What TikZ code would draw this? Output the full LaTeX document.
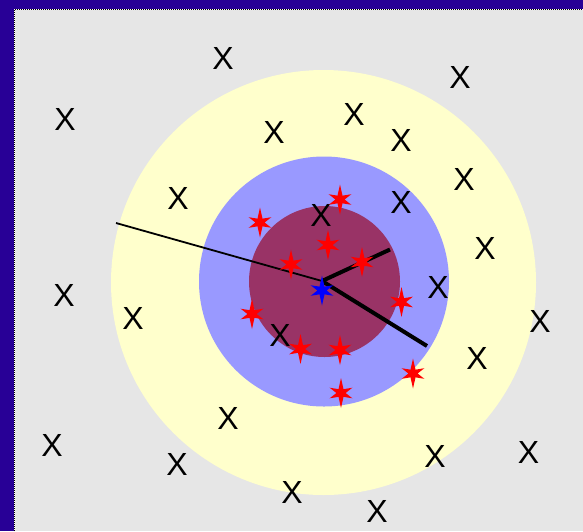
\documentclass[tikz,border=0pt]{standalone}
\usepackage{fontspec}
\setmainfont{Liberation Sans}
\definecolor{frameblue}{RGB}{40,0,150}
\definecolor{bggray}{RGB}{230,230,230}
\definecolor{ringyellow}{RGB}{255,255,204}
\definecolor{ringblue}{RGB}{153,153,255}
\definecolor{ringmaroon}{RGB}{153,51,102}
\tikzset{
  xmark/.style={inner sep=0pt, font=\fontsize{32}{32}\selectfont},
  thinradius/.style={line width=1.8pt},
  thickradius/.style={line width=4pt},
  pics/kstar/.style={code={
    \fill[#1] (90:15pt) -- (57:4.6pt) -- (25:12.5pt) -- (0:4.6pt) -- (-25:12.5pt)
      -- (-57:4.6pt) -- (-90:15pt) -- (-123:4.6pt) -- (205:12.5pt) -- (180:4.6pt)
      -- (155:12.5pt) -- (123:4.6pt) -- cycle;
  }}
}
\begin{document}
\begin{tikzpicture}[x=1pt,y=-1pt]
\useasboundingbox (0,0) rectangle (583,531);
\fill[frameblue] (0,0) rectangle (583,531);
\fill[bggray] (14,9) rectangle (583,531);
\draw[white, line width=1pt] (14.5,531) -- (14.5,9.5) -- (583,9.5);
\draw[black, line width=1pt, dash pattern=on 1pt off 1pt] (14.5,531) -- (14.5,9.5) -- (583,9.5);
% rings
\fill[ringyellow] (323.5,282.5) circle[radius=212.5pt];
\fill[ringblue] (324,281.5) circle[radius=125pt];
\fill[ringmaroon] (324.5,281.5) circle[radius=75.5pt];
% X marks
\node[xmark] (x1) at (223,58) {X};
\node[xmark] (x2) at (65,119) {X};
\node[xmark] (x3) at (274,132) {X};
\node[xmark] (x4) at (178,198.5) {X};
\node[xmark] (x5) at (64,295.5) {X};
\node[xmark] (x6) at (133,318) {X};
\node[xmark] (x7) at (280,335.5) {X};
\node[xmark] (x8) at (228,418) {X};
\node[xmark] (x9) at (52,445) {X};
\node[xmark] (x10) at (177,464) {X};
\node[xmark] (x11) at (460,77) {X};
\node[xmark] (x12) at (354,114) {X};
\node[xmark] (x13) at (401,140.5) {X};
\node[xmark] (x14) at (464,179) {X};
\node[xmark] (x15) at (321,215) {X};
\node[xmark] (x16) at (401,202.5) {X};
\node[xmark] (x17) at (485,248.5) {X};
\node[xmark] (x18) at (438,287.5) {X};
\node[xmark] (x19) at (540,321) {X};
\node[xmark] (x20) at (477,358.5) {X};
\node[xmark] (x21) at (435,456) {X};
\node[xmark] (x22) at (528.5,452.5) {X};
\node[xmark] (x23) at (377,511) {X};
\node[xmark] (x24) at (292,492) {X};
% radii
\coordinate (c) at (322,281);
\coordinate (r1) at (116,223);
\coordinate (r2) at (390,249.5);
\coordinate (r3) at (427,346);
\draw[thinradius] (r1) -- (c);
\draw[thickradius] (c) -- (r2);
\draw[thickradius] (c) -- (r3);
% stars
\pic (s1) at (340,199.5) {kstar=red};
\pic (s2) at (328,245) {kstar=red};
\pic (s3) at (362,262) {kstar=red};
\pic (s4) at (401.5,302) {kstar=red};
\pic (s5) at (300.5,349) {kstar=red};
\pic (s6) at (340,350) {kstar=red};
\pic (s7) at (341,393) {kstar=red};
\pic (s8) at (413,373.5) {kstar=red};
\pic (s9) at (260,222.5) {kstar=red};
\pic (s10) at (291,264.5) {kstar=red};
\pic (s11) at (252,314) {kstar=red};
\pic (s12) at (322,290.5) {kstar=blue};
\end{tikzpicture}
\end{document}
